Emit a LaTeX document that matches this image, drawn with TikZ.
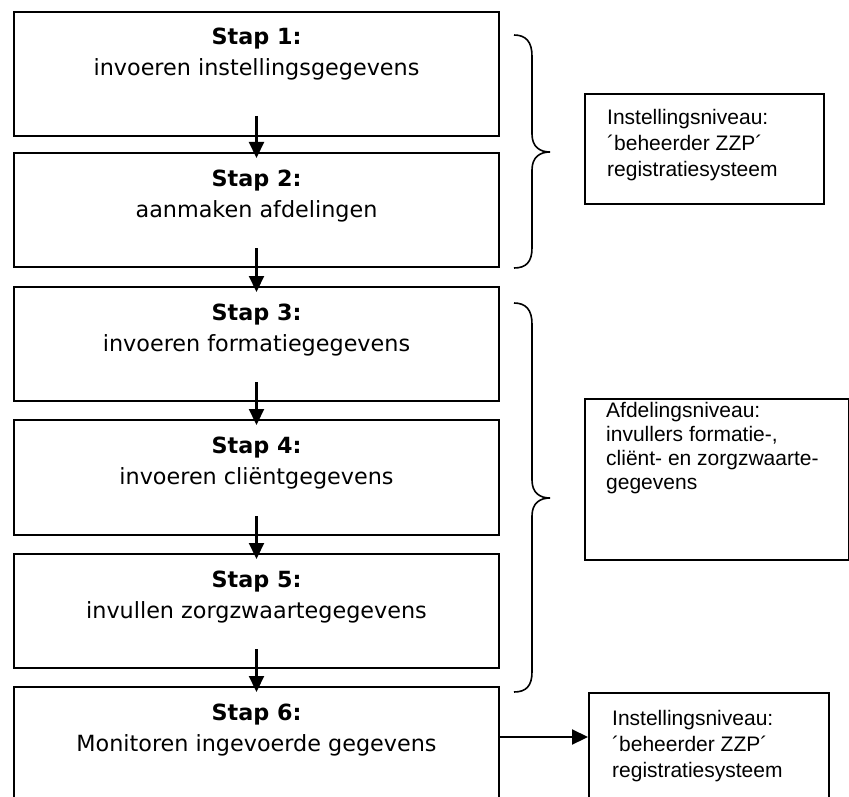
\documentclass[tikz,border=0pt]{standalone}
\usepackage{fontspec}
\setmainfont{DejaVu Sans}
\newfontfamily\arialf{Liberation Sans}
\usetikzlibrary{arrows.meta}
\begin{document}
\begin{tikzpicture}[x=1pt,y=-1pt,
  stepbox/.style={draw, line width=2pt, minimum width=485pt, inner sep=0pt, anchor=north west},
  infobox/.style={draw, line width=2pt, inner sep=0pt, anchor=north west},
  tl/.style={anchor=base, inner sep=0pt, font=\fontsize{22.3}{31}\selectfont},
  il/.style={anchor=base west, inner sep=0pt, font=\arialf\fontsize{21}{26}\selectfont},
  arr/.style={line width=2.2pt, -{Triangle[length=16pt,width=15pt]}},
  brace/.style={line width=1.6pt}
]
\useasboundingbox (0,0) rectangle (849,797);
\clip (0,0) rectangle (849,797);

% step boxes
\node[stepbox, minimum height=124pt] (b1) at (13,11) {};
\node[stepbox, minimum height=114pt] (b2) at (13,152) {};
\node[stepbox, minimum height=114pt] (b3) at (13,286) {};
\node[stepbox, minimum height=115pt] (b4) at (13,419) {};
\node[stepbox, minimum height=114pt] (b5) at (13,553) {};
\node[stepbox, minimum height=130pt] (b6) at (13,686) {};

% step texts
\node[tl] (t1a) at ([yshift=-34pt]b1.north) {\textbf{Stap 1:}};
\node[tl] (t1b) at ([yshift=-65pt]b1.north) {invoeren instellingsgegevens};
\node[tl] (t2a) at ([yshift=-34pt]b2.north) {\textbf{Stap 2:}};
\node[tl] (t2b) at ([yshift=-65pt]b2.north) {aanmaken afdelingen};
\node[tl] (t3a) at ([yshift=-34pt]b3.north) {\textbf{Stap 3:}};
\node[tl] (t3b) at ([yshift=-65pt]b3.north) {invoeren formatiegegevens};
\node[tl] (t4a) at ([yshift=-34pt]b4.north) {\textbf{Stap 4:}};
\node[tl] (t4b) at ([yshift=-65pt]b4.north) {invoeren cliëntgegevens};
\node[tl] (t5a) at ([yshift=-34pt]b5.north) {\textbf{Stap 5:}};
\node[tl] (t5b) at ([yshift=-65pt]b5.north) {invullen zorgzwaartegegevens};
\node[tl] (t6a) at ([yshift=-34pt]b6.north) {\textbf{Stap 6:}};
\node[tl] (t6b) at ([yshift=-65pt]b6.north) {Monitoren ingevoerde gegevens};

% vertical arrows
\draw[arr] ([yshift=21pt]b1.south) -- ([yshift=-6pt]b2.north);
\draw[arr] ([yshift=20pt]b2.south) -- ([yshift=-6pt]b3.north);
\draw[arr] ([yshift=20pt]b3.south) -- ([yshift=-6pt]b4.north);
\draw[arr] ([yshift=20pt]b4.south) -- ([yshift=-6pt]b5.north);
\draw[arr] ([yshift=20pt]b5.south) -- ([yshift=-6pt]b6.north);

% braces
\draw[brace] (514,35) .. controls (526,35) and (532,42) .. (532,56) -- (532,134)
  .. controls (532,147) and (540,152) .. (550,152)
  .. controls (540,152) and (532,157) .. (532,170) -- (532,248)
  .. controls (532,262) and (526,268) .. (514,268);
\draw[brace] (514,303) .. controls (526,303) and (532,310) .. (532,324) -- (532,480)
  .. controls (532,493) and (540,498) .. (550,498)
  .. controls (540,498) and (532,503) .. (532,516) -- (532,672)
  .. controls (532,686) and (526,692) .. (514,692);

% info boxes
\node[infobox, minimum width=239pt, minimum height=110pt] (rA) at (584,93) {};
\node[il] (rA1) at (607,125) {Instellingsniveau:};
\node[il] (rA2) at (607,151) {´beheerder ZZP´};
\node[il] (rA3) at (607,177) {registratiesysteem};

\node[infobox, minimum width=264pt, minimum height=161pt] (rB) at (584,398) {};
\node[il] (rB1) at (606,417) {Afdelingsniveau:};
\node[il] (rB2) at (606,441) {invullers formatie-,};
\node[il] (rB3) at (606,465) {cliënt- en zorgzwaarte-};
\node[il] (rB4) at (606,489) {gegevens};

\node[infobox, minimum width=240pt, minimum height=130pt] (rC) at (588,692) {};
\node[il] (rC1) at (612,725) {Instellingsniveau:};
\node[il] (rC2) at (612,751) {´beheerder ZZP´};
\node[il] (rC3) at (612,777) {registratiesysteem};

% horizontal arrow
\coordinate (a6) at (500,737);
\draw[arr] (a6) -- (rC.west |- a6);
\end{tikzpicture}
\end{document}
